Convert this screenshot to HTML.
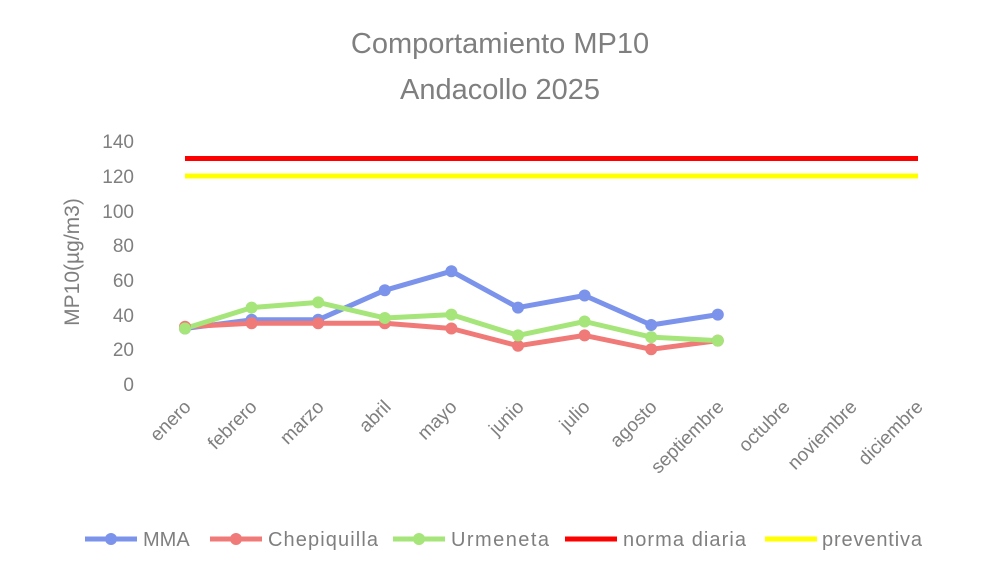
<!DOCTYPE html>
<html><head><meta charset="utf-8"><style>body{margin:0;background:#fff}</style></head><body>
<svg width="1000" height="582" xmlns="http://www.w3.org/2000/svg" font-family="Liberation Sans, sans-serif">
<rect width="1000" height="582" fill="#fff"/>
<text x="500" y="53" font-size="29" fill="#7f7f7f" text-anchor="middle">Comportamiento MP10</text>
<text x="500" y="99" font-size="29" fill="#7f7f7f" text-anchor="middle">Andacollo  2025</text>
<g font-size="19" fill="#7f7f7f" text-anchor="end">
<text x="134" y="148">140</text><text x="134" y="183">120</text><text x="134" y="218">100</text>
<text x="134" y="252">80</text><text x="134" y="287">60</text><text x="134" y="322">40</text>
<text x="134" y="356">20</text><text x="134" y="391">0</text>
</g>
<text transform="translate(79,262) rotate(-90)" font-size="21" fill="#7f7f7f" text-anchor="middle">MP10(µg/m3)</text>
<line x1="185" y1="158.5" x2="918" y2="158.5" stroke="#ff0000" stroke-width="5"/>
<line x1="185" y1="176" x2="918" y2="176" stroke="#ffff00" stroke-width="5"/>
<g stroke-width="5" fill="none" stroke-linejoin="round">
<polyline stroke="#7b93eb" points="185,328.5 251.6,319.8 318.2,319.8 384.8,290.3 451.4,271.2 518,307.6 584.6,295.5 651.2,325 717.8,314.6"/>
<polyline stroke="#f07a77" points="185,326.7 251.6,323.3 318.2,323.3 384.8,323.3 451.4,328.5 518,345.8 584.6,335.4 651.2,349.3 717.8,340.6"/>
<polyline stroke="#a6e57a" points="185,328.5 251.6,307.6 318.2,302.4 384.8,318 451.4,314.6 518,335.4 584.6,321.5 651.2,337.1 717.8,340.6"/>
</g>
<g fill="#7b93eb"><circle cx="185" cy="328.5" r="6"/><circle cx="251.6" cy="319.8" r="6"/><circle cx="318.2" cy="319.8" r="6"/><circle cx="384.8" cy="290.3" r="6"/><circle cx="451.4" cy="271.2" r="6"/><circle cx="518" cy="307.6" r="6"/><circle cx="584.6" cy="295.5" r="6"/><circle cx="651.2" cy="325" r="6"/><circle cx="717.8" cy="314.6" r="6"/></g>
<g fill="#f07a77"><circle cx="185" cy="326.7" r="6"/><circle cx="251.6" cy="323.3" r="6"/><circle cx="318.2" cy="323.3" r="6"/><circle cx="384.8" cy="323.3" r="6"/><circle cx="451.4" cy="328.5" r="6"/><circle cx="518" cy="345.8" r="6"/><circle cx="584.6" cy="335.4" r="6"/><circle cx="651.2" cy="349.3" r="6"/><circle cx="717.8" cy="340.6" r="6"/></g>
<g fill="#a6e57a"><circle cx="185" cy="328.5" r="6"/><circle cx="251.6" cy="307.6" r="6"/><circle cx="318.2" cy="302.4" r="6"/><circle cx="384.8" cy="318" r="6"/><circle cx="451.4" cy="314.6" r="6"/><circle cx="518" cy="335.4" r="6"/><circle cx="584.6" cy="321.5" r="6"/><circle cx="651.2" cy="337.1" r="6"/><circle cx="717.8" cy="340.6" r="6"/></g>
<g font-size="19" fill="#7f7f7f" text-anchor="end">
<text transform="translate(192,408) rotate(-45)">enero</text>
<text transform="translate(258,408) rotate(-45)">febrero</text>
<text transform="translate(325,408) rotate(-45)">marzo</text>
<text transform="translate(392,408) rotate(-45)">abril</text>
<text transform="translate(458,408) rotate(-45)">mayo</text>
<text transform="translate(525,408) rotate(-45)">junio</text>
<text transform="translate(591,408) rotate(-45)">julio</text>
<text transform="translate(658,408) rotate(-45)">agosto</text>
<text transform="translate(725,408) rotate(-45)">septiembre</text>
<text transform="translate(791,408) rotate(-45)">octubre</text>
<text transform="translate(858,408) rotate(-45)">noviembre</text>
<text transform="translate(924,408) rotate(-45)">diciembre</text>
</g>
<g font-size="20" fill="#7f7f7f">
<line x1="85" y1="539" x2="137" y2="539" stroke="#7b93eb" stroke-width="5"/><circle cx="111" cy="539" r="6" fill="#7b93eb"/><text x="143" y="546">MMA</text>
<line x1="210" y1="539" x2="262" y2="539" stroke="#f07a77" stroke-width="5"/><circle cx="236" cy="539" r="6" fill="#f07a77"/><text x="268" y="546" textLength="110">Chepiquilla</text>
<line x1="393" y1="539" x2="445" y2="539" stroke="#a6e57a" stroke-width="5"/><circle cx="419" cy="539" r="6" fill="#a6e57a"/><text x="451" y="546" textLength="98">Urmeneta</text>
<line x1="565" y1="539" x2="617" y2="539" stroke="#ff0000" stroke-width="5"/><text x="623" y="546" textLength="123">norma diaria</text>
<line x1="765" y1="539" x2="817" y2="539" stroke="#ffff00" stroke-width="5"/><text x="822" y="546" textLength="100">preventiva</text>
</g>
</svg>
</body></html>
